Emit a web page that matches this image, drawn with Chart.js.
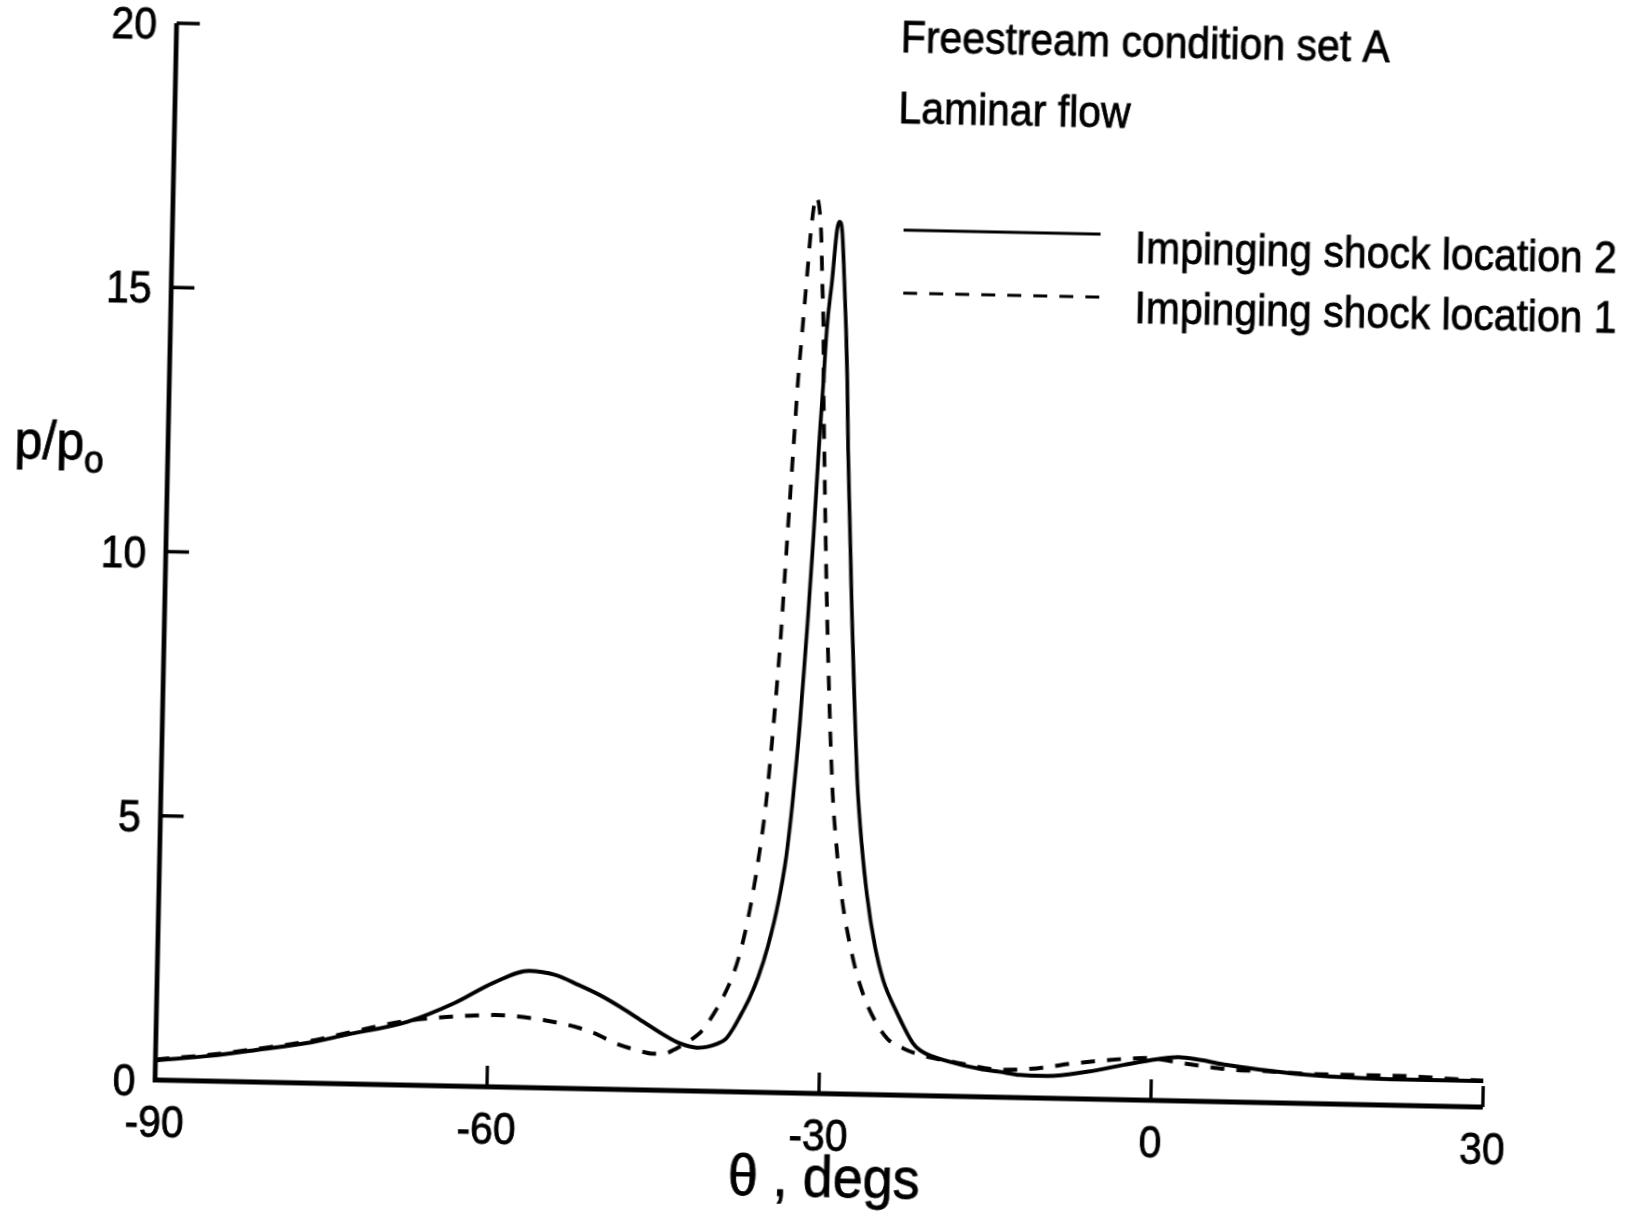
<!DOCTYPE html>
<html>
<head>
<meta charset="utf-8">
<script src="https://cdn.jsdelivr.net/npm/chart.js@4.4.1/dist/chart.umd.min.js"></script>
<style>
  html, body { margin: 0; padding: 0; background: #fff; overflow: hidden; width: 1631px; height: 1211px; }
  /* the plotted sheet sits slightly turned and narrowed */
  #sheet { position: absolute; left: -60px; top: 0; width: 1850px; height: 1211px;
           transform-origin: 215px 1080px; transform: rotate(1.17deg) scaleX(0.93); }
</style>
</head>
<body>
<div id="sheet"><canvas id="chart" width="1850" height="1211"></canvas></div>
<script>
// surface pressure ratio vs. angle, two impinging shock locations
const thetaLoc2 = [-90, -85, -80.8, -76, -72.8, -67.3, -63.1, -59.6, -56.4, -54, -51.9, -50, -48.1, -46, -44.2,
  -42.7, -41.1, -40.2, -39.3, -38.5, -37.8, -37.1, -36.4, -35.7, -34.9, -34, -33.4, -32.9, -32.4, -31.9, -31.5,
  -31.2, -30.9, -30.7, -30.3, -29.95, -29.75, -29.5, -29.2, -28.95, -28.75, -28.55, -27.85, -27.1, -26.6, -26,
  -25.2, -24.4, -23.1, -21.6, -20.9, -18.2, -15.5, -13.6, -11.9, -9.4, -5.7, -2.5, 0.5, 2.4, 4.5, 6.75, 10, 13,
  19.3, 25, 30];
const pLoc2 = [0.37, 0.48, 0.61, 0.77, 0.93, 1.20, 1.57, 1.97, 2.21, 2.14, 1.96, 1.78, 1.56, 1.29, 1.06,
  0.90, 0.82, 0.84, 0.90, 1.00, 1.22, 1.50, 1.80, 2.18, 2.75, 3.62, 4.45, 5.55, 7.0, 8.86, 10.6,
  12.18, 13.5, 14.45, 15.4, 16.35, 16.5, 16.35, 15.4, 14.45, 13.5, 12.19, 8.88, 5.9, 4.75, 3.74,
  2.80, 2.17, 1.56, 0.99, 0.85, 0.65, 0.53, 0.48, 0.43, 0.42, 0.52, 0.66, 0.78, 0.83, 0.78, 0.70, 0.62, 0.56,
  0.50, 0.49, 0.49];

const thetaLoc1 = [-90, -85, -80.8, -76, -72.8, -67.3, -64, -61.6, -59.5, -56.3, -54, -51.8, -50, -48.6, -46.5,
  -45, -44, -43.2, -42.4, -41.7, -40.6, -39.7, -38.8, -38.0, -37.3, -36.5, -35.9, -35.3, -34.8, -34.3, -33.9,
  -33.5, -33.2, -32.9, -32.6, -32.3, -31.9, -31.4, -31.2, -31.0, -30.9, -30.7, -30.1, -29.35, -28.9, -28.3,
  -27.6, -26.9, -26.1, -25.2, -23.9, -22.4, -20.9, -17.9, -13.5, -10.4, -7.3, -2.7, -0.1, 2.0, 4.9, 7.4, 9.8,
  14.9, 22.3, 27.3, 30];
const pLoc1 = [0.39, 0.50, 0.63, 0.80, 0.96, 1.22, 1.30, 1.34, 1.36, 1.32, 1.25, 1.15, 1.02, 0.88, 0.75,
  0.69, 0.70, 0.77, 0.87, 0.96, 1.16, 1.45, 1.80, 2.20, 2.70, 3.55, 4.40, 5.50, 6.9, 8.6, 10.4,
  12.17, 13.49, 14.44, 15.39, 16.34, 16.96, 16.34, 15.40, 14.45, 13.50, 12.18, 8.87, 5.8, 4.75, 3.73,
  2.95, 2.35, 1.85, 1.45, 1.06, 0.88, 0.77, 0.65, 0.52, 0.56, 0.66, 0.77, 0.80, 0.74, 0.66, 0.61, 0.60,
  0.56, 0.56, 0.52, 0.50];

const xTicks = [-90, -60, -30, 0, 30];
const yTicks = [0, 5, 10, 15, 20];
const seriesNames = ['Impinging shock location 2', 'Impinging shock location 1'];
const noteLines = ['Freestream condition set A', 'Laminar flow'];

const FONT = '"Liberation Sans", Arial, Helvetica, sans-serif';
const DASH = [15, 13];

function toPoints(xs, ys) {
  return xs.map((x, i) => ({ x: x, y: ys[i] }));
}

// text with a thin outline so it reads as heavy as the line work
function inkText(ctx, str, x, y) {
  ctx.fillText(str, x, y);
  ctx.strokeText(str, x, y);
}

// axes with inward ticks, labels, notes and key
const frame = {
  id: 'frame',
  afterDatasetsDraw(chart) {
    const ctx = chart.ctx;
    const xs = chart.scales.x, ys = chart.scales.y;
    const left = xs.getPixelForValue(-90);
    const right = xs.getPixelForValue(30);
    const bottom = ys.getPixelForValue(0);
    const top = ys.getPixelForValue(20);

    ctx.save();
    ctx.strokeStyle = '#000';
    ctx.fillStyle = '#000';

    // axis lines
    ctx.lineWidth = 5;
    ctx.beginPath();
    ctx.moveTo(left, top);
    ctx.lineTo(left, bottom);
    ctx.lineTo(right, bottom);
    ctx.stroke();

    // ticks
    ctx.lineWidth = 3.5;
    yTicks.forEach(v => {
      if (v === 0) return;
      const y = ys.getPixelForValue(v);
      ctx.beginPath(); ctx.moveTo(left, y); ctx.lineTo(left + 25, y); ctx.stroke();
    });
    xTicks.forEach(v => {
      if (v === -90) return;
      const x = xs.getPixelForValue(v);
      ctx.beginPath(); ctx.moveTo(x, bottom); ctx.lineTo(x, bottom - 21); ctx.stroke();
    });

    ctx.lineWidth = 0.8;
    ctx.textBaseline = 'alphabetic';

    // tick labels
    ctx.font = '44px ' + FONT;
    ctx.textAlign = 'right';
    yTicks.forEach(v => inkText(ctx, String(v), left - 21, ys.getPixelForValue(v) + 16));
    ctx.textAlign = 'center';
    xTicks.forEach(v => inkText(ctx, String(v), xs.getPixelForValue(v), bottom + 57));

    // axis titles
    ctx.textAlign = 'left';
    ctx.font = '58px ' + FONT;
    inkText(ctx, '\u03b8 , degs', left + 618, bottom + 103);
    ctx.font = '54px ' + FONT;
    inkText(ctx, 'p/p', left - 165, 461);
    ctx.font = '38px ' + FONT;
    inkText(ctx, 'o', left - 90, 474);

    // notes
    ctx.font = '44px ' + FONT;
    inkText(ctx, noteLines[0], left + 779, 37);
    inkText(ctx, noteLines[1], left + 778, 108);

    // key
    ctx.lineWidth = 3;
    ctx.beginPath(); ctx.moveTo(left + 786, 215); ctx.lineTo(left + 998, 215); ctx.stroke();
    ctx.setLineDash(DASH);
    ctx.beginPath(); ctx.moveTo(left + 787, 278); ctx.lineTo(left + 1000, 278); ctx.stroke();
    ctx.setLineDash([]);
    ctx.lineWidth = 0.8;
    inkText(ctx, seriesNames[0], left + 1035, 243);
    inkText(ctx, seriesNames[1], left + 1036, 303);
    ctx.restore();
  }
};

new Chart(document.getElementById('chart'), {
  type: 'line',
  data: {
    datasets: [
      {
        label: seriesNames[0],
        data: toPoints(thetaLoc2, pLoc2),
        borderColor: '#000',
        borderWidth: 4,
        pointRadius: 0,
        cubicInterpolationMode: 'monotone'
      },
      {
        label: seriesNames[1],
        data: toPoints(thetaLoc1, pLoc1),
        borderColor: '#000',
        borderWidth: 4,
        borderDash: DASH,
        pointRadius: 0,
        cubicInterpolationMode: 'monotone'
      }
    ]
  },
  options: {
    responsive: false,
    devicePixelRatio: 1,
    animation: false,
    layout: { padding: { left: 215, right: 207, top: 23, bottom: 131 } },
    scales: {
      x: { type: 'linear', min: -90, max: 30, display: false },
      y: { type: 'linear', min: 0, max: 20, display: false }
    },
    plugins: {
      legend: { display: false },
      tooltip: { enabled: false }
    }
  },
  plugins: [frame]
});
</script>
</body>
</html>
